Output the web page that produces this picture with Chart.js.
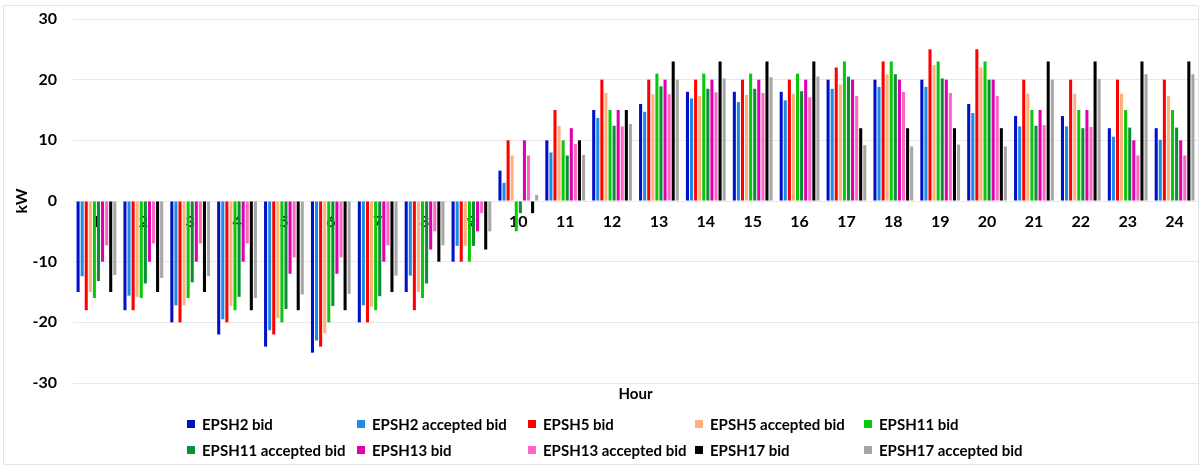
<!DOCTYPE html>
<html>
<head>
<meta charset="utf-8">
<title>EPSH bids by hour</title>
<script src="https://cdn.jsdelivr.net/npm/chart.js@4.4.0/dist/chart.umd.min.js"></script>
<style>
  html, body { margin: 0; padding: 0; background: #fff; }
  #bidChart { display: block; }
</style>
</head>
<body>
<canvas id="bidChart" width="1200" height="467"></canvas>
<script>
// Hours of the day
const hours = ['1', '2', '3', '4', '5', '6', '7', '8', '9', '10', '11', '12',
               '13', '14', '15', '16', '17', '18', '19', '20', '21', '22', '23', '24'];

// Bids and accepted bids per EPSH, kW
const epsh2Bid = [-15, -18, -20, -22, -24, -25, -20, -15, -10, 5, 10, 15, 16, 18, 18, 18, 20, 20, 20, 16, 14, 14, 12, 12];
const epsh2Accepted = [-12.4, -15.6, -17.2, -19.5, -21.3, -23, -17.2, -12.3, -7.4, 3, 8, 13.7, 14.7, 16.9, 16.3, 16.6, 18.5, 18.8, 18.8, 14.5, 12.3, 12.3, 10.6, 10.1];
const epsh5Bid = [-18, -18, -20, -20, -22, -24, -20, -18, -10, 10, 15, 20, 20, 20, 20, 20, 22, 23, 25, 25, 20, 20, 20, 20];
const epsh5Accepted = [-15, -15.8, -17.2, -17.3, -19.3, -21.8, -17.4, -15, -7.4, 7.5, 12.4, 17.8, 17.6, 17.3, 17.5, 17.7, 19.2, 20.9, 22.4, 22, 17.7, 17.7, 17.7, 17.3];
const epsh11Bid = [-16, -16, -16, -18, -20, -20, -18, -16, -10, -5, 10, 15, 21, 21, 21, 21, 23, 23, 23, 23, 15, 15, 15, 15];
const epsh11Accepted = [-13.2, -13.6, -13.4, -15.8, -17.8, -17.3, -15.7, -13.6, -7.4, -2, 7.5, 12.4, 18.9, 18.5, 18.5, 18.1, 20.5, 20.9, 20.2, 20, 12.4, 12, 12.1, 12.1];
const epsh13Bid = [-10, -10, -10, -10, -12, -12, -10, -8, -5, 10, 12, 15, 20, 20, 20, 20, 20, 20, 20, 20, 15, 15, 10, 10];
const epsh13Accepted = [-7.3, -7, -7, -7, -9.3, -9.3, -7.3, -5, -2, 7.5, 9.4, 12.3, 17.6, 17.9, 17.8, 17.1, 17.3, 18, 17.8, 17.3, 12.5, 12.2, 7.5, 7.5];
const epsh17Bid = [-15, -15, -15, -18, -18, -18, -15, -10, -8, -2, 10, 15, 23, 23, 23, 23, 12, 12, 12, 12, 23, 23, 23, 23];
const epsh17Accepted = [-12.2, -12.7, -12.4, -16, -15.4, -15.3, -12.3, -7.3, -5, 1, 7.6, 12.7, 20, 20.2, 20.4, 20.5, 9.2, 9, 9.3, 9, 20, 20.1, 20.9, 20.9];

const series = [
    { label: 'EPSH2 bid', data: epsh2Bid, color: '#0010C8' },
    { label: 'EPSH2 accepted bid', data: epsh2Accepted, color: '#1C8BE6' },
    { label: 'EPSH5 bid', data: epsh5Bid, color: '#FF0000' },
    { label: 'EPSH5 accepted bid', data: epsh5Accepted, color: '#FFB27E' },
    { label: 'EPSH11 bid', data: epsh11Bid, color: '#0AC80A' },
    { label: 'EPSH11 accepted bid', data: epsh11Accepted, color: '#0A8F32' },
    { label: 'EPSH13 bid', data: epsh13Bid, color: '#E000B0' },
    { label: 'EPSH13 accepted bid', data: epsh13Accepted, color: '#FF66C4' },
    { label: 'EPSH17 bid', data: epsh17Bid, color: '#000000' },
    { label: 'EPSH17 accepted bid', data: epsh17Accepted, color: '#A6A6A6' }
];

const FONT = 'Lato';

// Legend laid out as a 5-column grid under the axis title
const legendColumns = [187, 357, 528, 695, 864];
const legendRows = [424, 450];

const gridLegend = {
    id: 'gridLegend',
    afterDraw(chart) {
        const ctx = chart.ctx;
        ctx.save();
        ctx.font = 'bold 15px ' + FONT;
        ctx.textBaseline = 'middle';
        chart.data.datasets.forEach((ds, i) => {
            const x = legendColumns[i % 5];
            const y = legendRows[Math.floor(i / 5)];
            ctx.fillStyle = ds.backgroundColor;
            ctx.fillRect(x, y - 4, 8, 8);
            ctx.fillStyle = '#000';
            ctx.fillText(ds.label, x + 15, y + 1);
        });
        ctx.restore();
    }
};

// Thin outline around the whole figure
const frame = {
    id: 'frame',
    beforeDraw(chart) {
        const ctx = chart.ctx;
        ctx.save();
        ctx.strokeStyle = '#e6e6e6';
        ctx.lineWidth = 1;
        ctx.strokeRect(3.5, 5.5, chart.width - 5, chart.height - 8);
        ctx.restore();
    }
};

const ctx = document.getElementById('bidChart').getContext('2d');
new Chart(ctx, {
    type: 'bar',
    data: {
        labels: hours,
        datasets: series.map(s => ({
            label: s.label,
            data: s.data,
            backgroundColor: s.color,
            borderWidth: 0,
            categoryPercentage: 0.87,
            barPercentage: 0.75
        }))
    },
    options: {
        responsive: false,
        animation: false,
        devicePixelRatio: 1,
        layout: {
            padding: { top: 19, right: 2, bottom: 62, left: 12 }
        },
        plugins: {
            legend: { display: false },
            tooltip: { enabled: false }
        },
        scales: {
            x: {
                type: 'category',
                position: { y: 0 },
                z: 1,
                grid: { display: false, drawTicks: false },
                border: { display: false },
                ticks: {
                    color: '#000',
                    padding: 11,
                    maxRotation: 0,
                    font: { family: FONT, size: 16, weight: 'bold' }
                }
            },
            xTitle: {
                type: 'category',
                position: 'bottom',
                labels: hours,
                grid: { display: false, drawTicks: false },
                border: { display: false },
                ticks: { display: false },
                title: {
                    display: true,
                    text: 'Hour',
                    color: '#000',
                    padding: { top: 2, bottom: 2 },
                    font: { family: FONT, size: 15, weight: 'bold' }
                }
            },
            y: {
                min: -30,
                max: 30,
                afterFit(scale) {
                    // fixed axis width, and no extra room above the top tick
                    scale.width = 61;
                    scale.paddingTop = 0;
                    scale.paddingBottom = 0;
                },
                ticks: {
                    stepSize: 10,
                    color: '#000',
                    padding: 16,
                    font: { family: FONT, size: 16, weight: 'bold' }
                },
                grid: { color: '#e8e8e8', drawTicks: false },
                border: { display: false },
                title: {
                    display: true,
                    text: 'kW',
                    color: '#000',
                    padding: { top: 0, bottom: 2 },
                    font: { family: FONT, size: 16, weight: 'bold' }
                }
            }
        }
    },
    plugins: [frame, gridLegend]
});
</script>
</body>
</html>
